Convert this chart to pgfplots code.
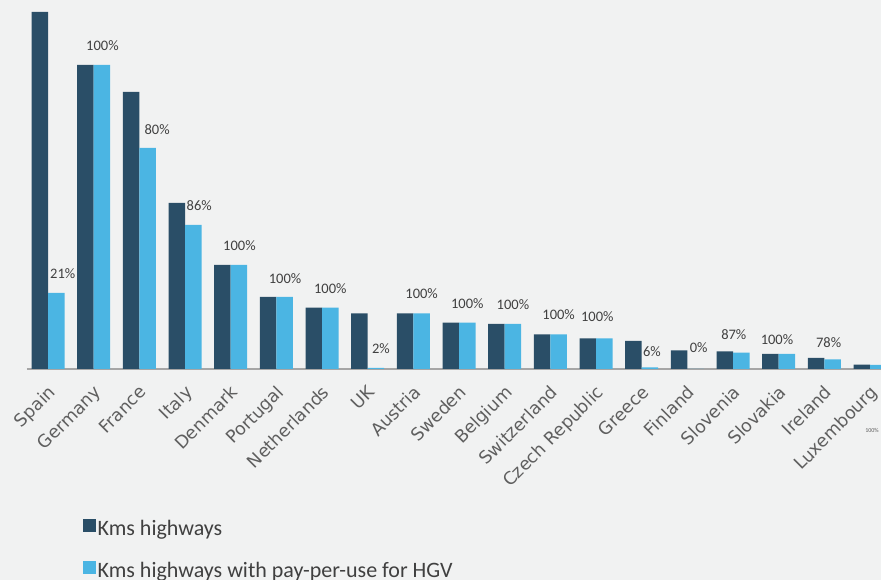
\documentclass[border=0pt]{standalone}
\usepackage{pgfplots}
\pgfplotsset{compat=1.18}
\usepackage{pgfplotstable}
\usepackage{fontspec}
\setmainfont{Carlito}
\newfontfamily\tickfont{DejaVu Sans}
\definecolor{bg}{RGB}{241,242,242}
\definecolor{darkbar}{RGB}{42,78,103}
\definecolor{lightbar}{RGB}{75,181,227}
\definecolor{axisgrey}{RGB}{166,166,166}
\definecolor{txt}{RGB}{64,64,64}
\definecolor{ticktxt}{RGB}{95,95,95}

\pgfplotstableread{
idx dark light lab dx yo
0 357 76 21\% 6.5 14
1 304 304 100\% 0.5 14
2 277 221 80\% 9.5 13
3 166 144 86\% 6 14
4 104 104 100\% 0.5 14
5 72 72 100\% 0.5 13
6 61.3 61.3 100\% 0 14.4
7 55.7 1.2 2\% 5 14
8 55.7 55.7 100\% 0 14.3
9 46.3 46.3 100\% 0 14.4
10 45 45 100\% 0 14.7
11 34.7 34.7 100\% 0 14.3
12 30.7 30.7 100\% -7 16.6
13 28 1.7 6\% 2 11
14 18.7 0 0\% 3 16
15 17.7 16.3 87\% -7.5 12.7
16 15 15 100\% -10 9.7
17 11 9.7 78\% -4 11.6
18 4.3 4 {} 0 0
}\datatable

\begin{document}
\begin{tikzpicture}
\fill[bg] (0,0) rectangle (881pt,580pt);
\clip (0,0) rectangle (881pt,580pt);
\begin{axis}[
  at={(27pt,211pt)}, anchor=south west,
  scale only axis, width=854pt, height=369pt,
  xmin=-0.46, xmax=18.24, ymin=0, ymax=369,
  ybar=0pt, bar width=16.5pt,
  hide y axis,
  axis x line*=bottom,
  x axis line style={draw=axisgrey, line width=1.2pt, -},
  xtick={0,...,18}, major tick length=0pt,
  xticklabels={Spain,Germany,France,Italy,Denmark,Portugal,Netherlands,UK,Austria,Sweden,Belgium,Switzerland,Czech Republic,Greece,Finland,Slovenia,Slovakia,Ireland,Luxembourg},
  xticklabel style={xshift=-1pt, yshift=-15pt, rotate=45, anchor=north east, inner sep=0pt, font=\tickfont\fontsize{17.5}{21}\selectfont, text=ticktxt},
  legend style={at={(axis description cs:0.0656,-0.404)}, anchor=north west, draw=none, fill=none, inner sep=0pt, font=\fontsize{22}{25}\selectfont, text=txt, row sep=21pt},
  legend cell align=left,
  legend image code/.code={\fill[#1] (0pt,-3.7pt) rectangle (12.5pt,9.3pt);},
]
\addplot[fill=darkbar, draw=none] table[x=idx, y=dark]{\datatable};
\addlegendentry{Kms highways}
\addplot[fill=lightbar, draw=none,
  point meta=explicit symbolic,
  visualization depends on={\thisrow{dx} \as \dx},
  visualization depends on={\thisrow{yo} \as \yo},
  nodes near coords,
  every node near coord/.append style={xshift=\dx pt, yshift=\yo pt, anchor=base, inner sep=0pt, font=\fontsize{14.5}{16}\selectfont, text=txt},
] table[x=idx, y=light, meta=lab]{\datatable};
\addlegendentry{Kms highways with pay-per-use for HGV}
\end{axis}
\node[font=\fontsize{6}{7}\selectfont, text=ticktxt] at (872pt,150pt) {100\%};
\end{tikzpicture}
\end{document}
